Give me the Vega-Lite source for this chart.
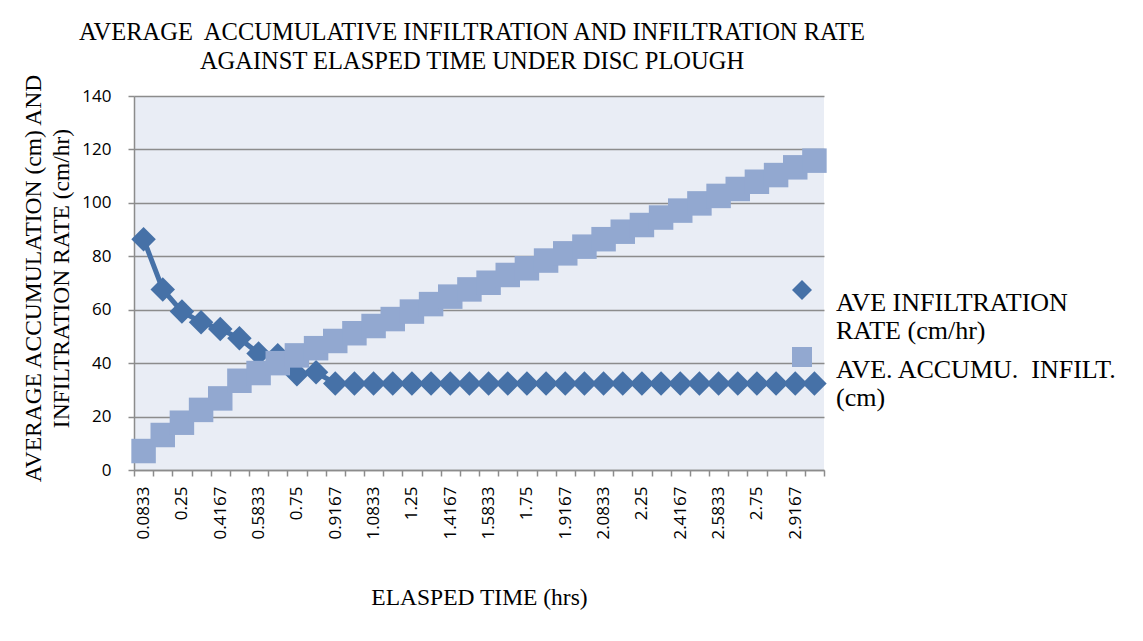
{
  "$schema": "https://vega.github.io/schema/vega-lite/v6.json",
  "width": 690,
  "height": 374,
  "autosize": {"type": "none"},
  "padding": {"left": 134, "top": 96, "right": 319, "bottom": 171},
  "background": "white",
  "config": {"view": {"fill": "#E9EDF5", "stroke": null}, "font": "Liberation Serif"},
  "title": {
    "text": ["AVERAGE\u00a0 ACCUMULATIVE INFILTRATION AND INFILTRATION RATE", "AGAINST ELASPED TIME UNDER DISC PLOUGH"],
    "font": "Liberation Serif", "fontSize": 24.5, "fontWeight": "normal", "color": "#000000",
    "lineHeight": 29, "anchor": "middle", "frame": "group", "dx": -7, "offset": -2
  },
  "data": {"values": [
    {"series": "rate", "time": "0.0833", "value": 86.4},
    {"series": "rate", "time": "0.1667", "value": 67.6},
    {"series": "rate", "time": "0.25", "value": 59.3},
    {"series": "rate", "time": "0.3333", "value": 55.3},
    {"series": "rate", "time": "0.4167", "value": 52.8},
    {"series": "rate", "time": "0.5", "value": 49.3},
    {"series": "rate", "time": "0.5833", "value": 43.6},
    {"series": "rate", "time": "0.6667", "value": 43.0},
    {"series": "rate", "time": "0.75", "value": 35.8},
    {"series": "rate", "time": "0.8333", "value": 36.6},
    {"series": "rate", "time": "0.9167", "value": 32.4},
    {"series": "rate", "time": "1", "value": 32.4},
    {"series": "rate", "time": "1.0833", "value": 32.4},
    {"series": "rate", "time": "1.1667", "value": 32.4},
    {"series": "rate", "time": "1.25", "value": 32.4},
    {"series": "rate", "time": "1.3333", "value": 32.4},
    {"series": "rate", "time": "1.4167", "value": 32.4},
    {"series": "rate", "time": "1.5", "value": 32.4},
    {"series": "rate", "time": "1.5833", "value": 32.4},
    {"series": "rate", "time": "1.6667", "value": 32.4},
    {"series": "rate", "time": "1.75", "value": 32.4},
    {"series": "rate", "time": "1.8333", "value": 32.4},
    {"series": "rate", "time": "1.9167", "value": 32.4},
    {"series": "rate", "time": "2", "value": 32.4},
    {"series": "rate", "time": "2.0833", "value": 32.4},
    {"series": "rate", "time": "2.1667", "value": 32.4},
    {"series": "rate", "time": "2.25", "value": 32.4},
    {"series": "rate", "time": "2.3333", "value": 32.4},
    {"series": "rate", "time": "2.4167", "value": 32.4},
    {"series": "rate", "time": "2.5", "value": 32.4},
    {"series": "rate", "time": "2.5833", "value": 32.4},
    {"series": "rate", "time": "2.6667", "value": 32.4},
    {"series": "rate", "time": "2.75", "value": 32.4},
    {"series": "rate", "time": "2.8333", "value": 32.4},
    {"series": "rate", "time": "2.9167", "value": 32.4},
    {"series": "rate", "time": "3", "value": 32.4},
    {"series": "accum", "time": "0.0833", "value": 7.1},
    {"series": "accum", "time": "0.1667", "value": 13.1},
    {"series": "accum", "time": "0.25", "value": 17.7},
    {"series": "accum", "time": "0.3333", "value": 22.5},
    {"series": "accum", "time": "0.4167", "value": 26.8},
    {"series": "accum", "time": "0.5", "value": 33.4},
    {"series": "accum", "time": "0.5833", "value": 36.3},
    {"series": "accum", "time": "0.6667", "value": 40.0},
    {"series": "accum", "time": "0.75", "value": 42.9},
    {"series": "accum", "time": "0.8333", "value": 45.6},
    {"series": "accum", "time": "0.9167", "value": 48.3},
    {"series": "accum", "time": "1", "value": 51.2},
    {"series": "accum", "time": "1.0833", "value": 53.9},
    {"series": "accum", "time": "1.1667", "value": 56.5},
    {"series": "accum", "time": "1.25", "value": 59.3},
    {"series": "accum", "time": "1.3333", "value": 62.1},
    {"series": "accum", "time": "1.4167", "value": 64.9},
    {"series": "accum", "time": "1.5", "value": 67.6},
    {"series": "accum", "time": "1.5833", "value": 70.1},
    {"series": "accum", "time": "1.6667", "value": 73.0},
    {"series": "accum", "time": "1.75", "value": 75.5},
    {"series": "accum", "time": "1.8333", "value": 78.4},
    {"series": "accum", "time": "1.9167", "value": 81.1},
    {"series": "accum", "time": "2", "value": 83.6},
    {"series": "accum", "time": "2.0833", "value": 86.4},
    {"series": "accum", "time": "2.1667", "value": 89.2},
    {"series": "accum", "time": "2.25", "value": 91.7},
    {"series": "accum", "time": "2.3333", "value": 94.5},
    {"series": "accum", "time": "2.4167", "value": 97.1},
    {"series": "accum", "time": "2.5", "value": 99.8},
    {"series": "accum", "time": "2.5833", "value": 102.6},
    {"series": "accum", "time": "2.6667", "value": 105.2},
    {"series": "accum", "time": "2.75", "value": 107.9},
    {"series": "accum", "time": "2.8333", "value": 110.4},
    {"series": "accum", "time": "2.9167", "value": 113.3},
    {"series": "accum", "time": "3", "value": 115.8}
  ]},
  "encoding": {
    "x": {
      "field": "time", "type": "ordinal", "sort": null,
      "scale": {"type": "band", "paddingInner": 0, "paddingOuter": 0},
      "axis": {
        "title": "ELASPED TIME (hrs)", "tickBand": "extent", "grid": false,
        "labelAngle": 270, "labelOverlap": false, "labelFlush": false,
        "labelExpr": "indexof(['0.0833','0.25','0.4167','0.5833','0.75','0.9167','1.0833','1.25','1.4167','1.5833','1.75','1.9167','2.0833','2.25','2.4167','2.5833','2.75','2.9167'], datum.value) >= 0 ? datum.label : ''",
        "labelFont": "Open Sans", "labelFontSize": 17, "labelColor": "#000000", "labelPadding": 10,
        "domainColor": "#8C8C8C", "domainWidth": 1.5, "tickColor": "#8C8C8C", "tickWidth": 1.5, "tickSize": 6,
        "titleFont": "Liberation Serif", "titleFontSize": 23.5, "titleFontWeight": "normal", "titleColor": "#000000",
        "titleY": 127, "titleBaseline": "middle"
      }
    },
    "y": {
      "field": "value", "type": "quantitative",
      "scale": {"domain": [0, 140], "nice": false},
      "axis": {
        "values": [0, 20, 40, 60, 80, 100, 120, 140],
        "grid": true, "gridColor": "#8C8C8C", "gridWidth": 1.5,
        "domainColor": "#8C8C8C", "domainWidth": 1.5, "tickColor": "#8C8C8C", "tickWidth": 1.5, "tickSize": 6,
        "labelFont": "Open Sans", "labelFontSize": 17, "labelColor": "#000000", "labelPadding": 17,
        "title": ["AVERAGE ACCUMULATION (cm) AND", "INFILTRATION RATE (cm/hr)"],
        "titleFont": "Liberation Serif", "titleFontSize": 23.5, "titleFontWeight": "normal", "titleColor": "#000000",
        "titleAngle": 270, "titleX": -101, "titleY": 182, "titleAlign": "center", "titleBaseline": "middle", "titleLineHeight": 28
      }
    }
  },
  "resolve": {"legend": {"color": "independent", "shape": "independent"}},
  "layer": [
    {
      "mark": {"type": "line", "strokeWidth": 5},
      "encoding": {
        "color": {"field": "series", "type": "nominal",
          "scale": {"domain": ["rate", "accum"], "range": ["#4671A7", "#92A8D0"]},
          "legend": null}
      }
    },
    {
      "mark": {"type": "point", "filled": true, "opacity": 1, "size": 600, "strokeWidth": 0},
      "encoding": {
        "color": {"field": "series", "type": "nominal",
          "scale": {"domain": ["rate", "accum"], "range": ["#4671A7", "#92A8D0"]},
          "legend": {
            "orient": "none", "legendX": 655, "legendY": 181, "title": null, "padding": 0,
            "symbolSize": 400, "symbolStrokeWidth": 0, "symbolOffset": 0,
            "labelFont": "Liberation Serif", "labelFontSize": 26, "labelColor": "#000000", "labelLimit": 400,
            "labelOffset": 21, "labelBaseline": "top", "rowPadding": -10,
            "labelExpr": "datum.value == 'rate' ? ['AVE INFILTRATION', 'RATE (cm/hr)'] : ['AVE. ACCUMU.\u00a0 INFILT.', '(cm)']",
            "encode": {
              "symbols": {
                "shape": {"value": {"expr": "datum.value == 'rate' ? 'M-1,-0.074H-0.37L0,-0.315L0.37,-0.074H1V0.074H0.37L0,0.315L-0.37,0.074H-1Z' : 'M-1,-0.074H-0.333V-0.333H0.333V-0.074H1V0.074H0.333V0.333H-0.333V0.074H-1Z'"}},
                "size": {"value": 2916},
                "strokeWidth": {"value": 0},
                "opacity": {"value": 1}
              },
              "labels": {"dy": {"value": -13}, "lineHeight": {"value": 31}}
            }
          }
        },
        "shape": {"field": "series", "type": "nominal",
          "scale": {"domain": ["rate", "accum"], "range": ["diamond", "square"]},
          "legend": {
            "orient": "none", "legendX": 655, "legendY": 181, "title": null, "padding": 0,
            "symbolSize": 400, "symbolStrokeWidth": 0, "symbolOffset": 0,
            "labelFont": "Liberation Serif", "labelFontSize": 26, "labelColor": "#000000", "labelLimit": 400,
            "labelOffset": 21, "labelBaseline": "top", "rowPadding": -10,
            "labelExpr": "datum.value == 'rate' ? ['AVE INFILTRATION', 'RATE (cm/hr)'] : ['AVE. ACCUMU.\u00a0 INFILT.', '(cm)']",
            "encode": {
              "symbols": {
                "shape": {"value": {"expr": "datum.value == 'rate' ? 'M-1,-0.074H-0.37L0,-0.315L0.37,-0.074H1V0.074H0.37L0,0.315L-0.37,0.074H-1Z' : 'M-1,-0.074H-0.333V-0.333H0.333V-0.074H1V0.074H0.333V0.333H-0.333V0.074H-1Z'"}},
                "size": {"value": 2916},
                "strokeWidth": {"value": 0},
                "opacity": {"value": 1}
              },
              "labels": {"dy": {"value": -13}, "lineHeight": {"value": 31}}
            }
          }
        }
      }
    }
  ]
}
